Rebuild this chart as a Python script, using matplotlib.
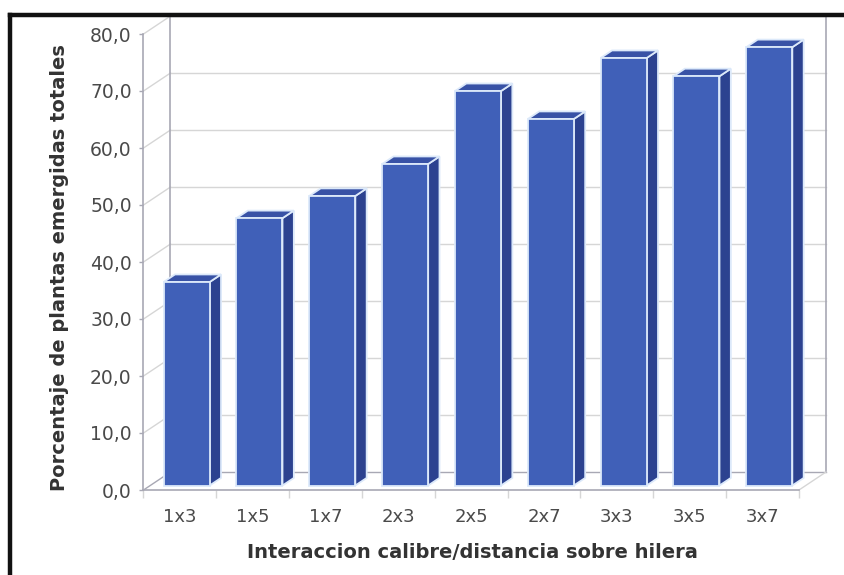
import matplotlib
matplotlib.use("Agg")
import matplotlib.pyplot as plt
from matplotlib.patches import Polygon
from matplotlib.lines import Line2D

plt.rcParams['font.family'] = ['DejaVu Sans']

# Emergence per calibre/row-spacing combination
categorias = ['1x3', '1x5', '1x7', '2x3', '2x5', '2x7', '3x3', '3x5', '3x7']
emergencia = [35.7, 46.9, 50.8, 56.4, 69.2, 64.3, 75.0, 71.8, 76.9]
yticks = [0, 10, 20, 30, 40, 50, 60, 70, 80]

W, H = 845, 575
fig = plt.figure(figsize=(W / 100, H / 100), dpi=100)
fig.patch.set_facecolor('white')

# front plane of the box in pixels
x0, x1, y0, y1 = 143.5, 799.0, 490.0, 34.0
ax = fig.add_axes([x0 / W, 1 - y0 / H, (x1 - x0) / W, (y0 - y1) / H])
n = len(categorias)
ax.set_xlim(0, n)
ax.set_ylim(0, 80)
ax.patch.set_alpha(0)

px_x = (x1 - x0) / n          # pixels per category
px_y = (y0 - y1) / 80.0       # pixels per unit

# depth of the box (wall offset) in data units
wdx, wdy = 27 / px_x, 18 / px_y

grid_c = '#d6d6d6'
edge_c = '#a8a8b4'

# back wall gridlines and left wall diagonals
for v in yticks:
    c = edge_c if v == 0 else grid_c
    ax.plot([wdx, n + wdx], [v + wdy, v + wdy], color=c, lw=1, zorder=1, clip_on=False)
    ax.plot([0, wdx], [v, v + wdy], color=c, lw=1, zorder=1, clip_on=False)
ax.plot([wdx, wdx], [wdy, 80 + wdy], color=edge_c, lw=1.2, zorder=1, clip_on=False)
ax.plot([n + wdx, n + wdx], [wdy, 80 + wdy], color=edge_c, lw=1.2, zorder=1, clip_on=False)
ax.plot([n, n + wdx], [0, wdy], color=grid_c, lw=1, zorder=1, clip_on=False)

# 3D columns
front_c, side_c, top_c = '#4060b8', '#2c4290', '#3852a6'
line_c = '#dce9fa'
bw = 46 / px_x
f0 = 0.25   # front face position inside the box depth
fd = 0.42   # bar depth as fraction of box depth
for i, val in enumerate(emergencia):
    cx = i + 0.5 + f0 * wdx
    by = f0 * wdy
    l, r = cx - bw / 2, cx + bw / 2
    ddx, ddy = fd * wdx, fd * wdy
    front = [(l, by), (r, by), (r, by + val), (l, by + val)]
    side = [(r, by), (r + ddx, by + ddy), (r + ddx, by + val + ddy), (r, by + val)]
    top = [(l, by + val), (r, by + val), (r + ddx, by + val + ddy), (l + ddx, by + val + ddy)]
    for pts, fc in ((side, side_c), (top, top_c), (front, front_c)):
        ax.add_patch(Polygon(pts, closed=True, facecolor=fc, edgecolor=line_c,
                             lw=1.3, zorder=3, clip_on=False))

# axes: front edges and ticks
for s in ('top', 'right'):
    ax.spines[s].set_visible(False)
for s in ('left', 'bottom'):
    ax.spines[s].set_color(edge_c)
    ax.spines[s].set_linewidth(1.2)

ax.set_yticks(yticks)
ax.set_yticklabels([f'{v:.1f}'.replace('.', ',') for v in yticks])
ax.tick_params(axis='y', direction='out', length=3, width=1, color=edge_c,
               pad=5.5, labelsize=13.5, labelcolor='#4a4a4a')

ax.set_xticks(range(n + 1))
ax.set_xticklabels([])
ax.set_xticks([i + 0.5 for i in range(n)], minor=True)
ax.set_xticklabels(categorias, minor=True)
ax.tick_params(axis='x', which='major', direction='out', length=6, width=1, color=grid_c)
ax.tick_params(axis='x', which='minor', length=0, pad=13, labelsize=13, labelcolor='#4a4a4a')

fig.text(472 / W, 1 - 552 / H, 'Interaccion calibre/distancia sobre hilera',
         ha='center', va='center', fontsize=14, fontweight='bold', color='#333333')
fig.text(60 / W, 1 - 268 / H, 'Porcentaje de plantas emergidas totales',
         ha='center', va='center', rotation=90, fontsize=14, fontweight='bold', color='#333333')

# heavy frame along top and left
fig.add_artist(Line2D([10 / W, 1.0], [1 - 14.5 / H, 1 - 14.5 / H], color='#111111', lw=3.2))
fig.add_artist(Line2D([10 / W, 10 / W], [0, 1 - 14.5 / H], color='#111111', lw=3.2))

fig.savefig('out.png', dpi=100, facecolor='white')
